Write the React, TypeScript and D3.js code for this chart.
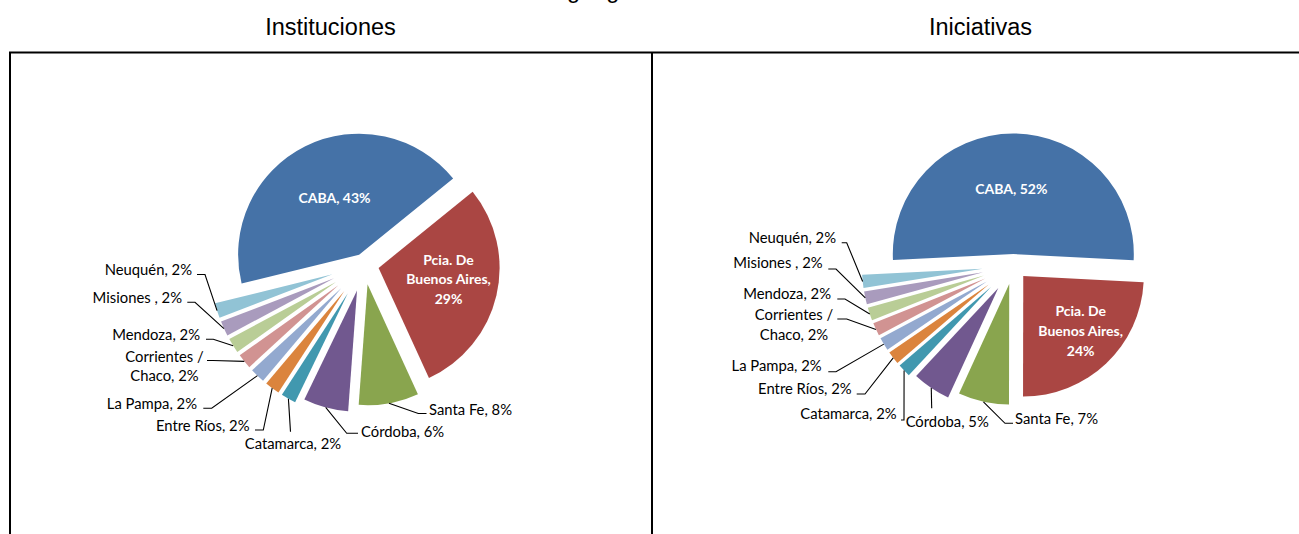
import React from 'react';
import * as d3 from 'd3';

// ---------- DATA ----------
const categories = [
  'CABA',
  'Pcia. De Buenos Aires',
  'Santa Fe',
  'Córdoba',
  'Catamarca',
  'Entre Ríos',
  'La Pampa',
  'Corrientes / Chaco',
  'Mendoza',
  'Misiones ',
  'Neuquén',
];
const institucionesValues = [43, 29, 8, 6, 2, 2, 2, 2, 2, 2, 2];
const iniciativasValues = [51.6, 24.2, 6.8, 5.1, 1.75, 1.75, 1.75, 1.75, 1.75, 1.75, 1.75];
const chartTitles = ['Instituciones', 'Iniciativas'];
const pageTitle = 'Distribución geográfica';

// ---------- STYLES / LAYOUT ----------
const colors = ['#4572A7', '#AA4643', '#89A54E', '#71588F', '#4198AF', '#DB843D', '#93A9CF', '#D19392', '#B9CD96', '#A99BBD', '#91C3D5'];
const LABEL_FONT = 'Lato, "Open Sans", sans-serif';
const TITLE_FONT = '"Liberation Sans", Arial, sans-serif';

type LabelLayout = {
  inside?: boolean;
  x: number;
  y: number;
  anchor: 'start' | 'middle' | 'end';
  breaks?: number[];
  lh?: number;
  elbow?: [number, number];
  end?: [number, number];
};

type ChartLayout = {
  titleX: number;
  cx: number;
  cy: number;
  r: number;
  startDeg: number;
  explode: number[];
  labels: LabelLayout[];
};

const leftLayout: ChartLayout = {
  titleX: 330.5,
  cx: 364,
  cy: 264.5,
  r: 121,
  startDeg: -103.8,
  explode: [11, 15, 20, 27, 33, 33, 33, 33, 33, 33, 33],
  labels: [
    { inside: true, x: 334.5, y: 202.5, anchor: 'middle' },
    { inside: true, x: 448.5, y: 264.5, anchor: 'middle', breaks: [2, 4], lh: 19.7 },
    { x: 429, y: 415, anchor: 'start', elbow: [418.3, 413.5], end: [426.5, 413.5] },
    { x: 361, y: 437, anchor: 'start', elbow: [346.7, 433.3], end: [358, 433.3] },
    { x: 293, y: 449, anchor: 'middle', elbow: [290.5, 431.7], end: [290.5, 431.7] },
    { x: 249.5, y: 431, anchor: 'end', elbow: [263.3, 430], end: [255, 430] },
    { x: 197, y: 409, anchor: 'end', elbow: [211.7, 408.3], end: [203.3, 408.3] },
    { x: 164.5, y: 361.7, anchor: 'middle', breaks: [2], lh: 19.3, elbow: [213, 360.5], end: [207, 360.5] },
    { x: 200, y: 340, anchor: 'end', elbow: [213.3, 339.3], end: [206, 339.3] },
    { x: 182, y: 302.7, anchor: 'end', elbow: [195, 302.3], end: [187.3, 302.3] },
    { x: 192, y: 275, anchor: 'end', elbow: [205, 274.5], end: [197, 274.5] },
  ],
};

const rightLayout: ChartLayout = {
  titleX: 980.5,
  cx: 1013.3,
  cy: 265.5,
  r: 120.5,
  startDeg: -92.9,
  explode: [11.5, 14.5, 19, 27, 31, 31, 31, 31, 31, 31, 31],
  labels: [
    { inside: true, x: 1011.3, y: 194.3, anchor: 'middle' },
    { inside: true, x: 1080.7, y: 316, anchor: 'middle', breaks: [2, 4], lh: 19.85 },
    { x: 1015, y: 424.3, anchor: 'start', elbow: [1005, 423.3], end: [1013, 423.3] },
    { x: 947.2, y: 427, anchor: 'middle', elbow: [931.7, 408.3], end: [931.7, 408.3] },
    { x: 896.7, y: 419.3, anchor: 'end', elbow: [904, 420], end: [901, 420] },
    { x: 851.7, y: 394, anchor: 'end', elbow: [865, 394], end: [856.7, 394] },
    { x: 821.7, y: 371, anchor: 'end', elbow: [836, 371.7], end: [828.3, 371.7] },
    { x: 794, y: 320, anchor: 'middle', breaks: [2], lh: 20, elbow: [846.7, 319], end: [837.3, 319] },
    { x: 831, y: 299.3, anchor: 'end', elbow: [845, 299], end: [837.3, 299] },
    { x: 822.7, y: 268.3, anchor: 'end', elbow: [836, 269], end: [828.3, 269] },
    { x: 836, y: 243.3, anchor: 'end', elbow: [846.7, 242.7], end: [841.7, 242.7] },
  ],
};

function splitLines(text: string, breaks?: number[]): string[] {
  if (!breaks || breaks.length === 0) return [text];
  const words = text.split(' ');
  const lines: string[] = [];
  let prev = 0;
  for (const b of breaks) {
    lines.push(words.slice(prev, b).join(' '));
    prev = b;
  }
  lines.push(words.slice(prev).join(' '));
  return lines;
}

function PieChart({ values, title, layout }: { values: number[]; title: string; layout: ChartLayout }) {
  const start = (layout.startDeg * Math.PI) / 180;
  const pie = d3
    .pie<number>()
    .sort(null)
    .value((d) => d)
    .startAngle(start)
    .endAngle(start + 2 * Math.PI);
  const arcs = pie(values);
  const arcGen = d3.arc<d3.PieArcDatum<number>>().innerRadius(0).outerRadius(layout.r);
  const total = d3.sum(values);
  const { cx, cy, r } = layout;

  return (
    <g>
      <text x={layout.titleX} y={35} textAnchor="middle" fontFamily={TITLE_FONT} fontSize={23.5} fill="#000">
        {title}
      </text>
      {arcs.map((a, i) => {
        const mid = (a.startAngle + a.endAngle) / 2;
        const e = layout.explode[i];
        const dx = e * Math.sin(mid);
        const dy = -e * Math.cos(mid);
        return (
          <path key={'s' + i} d={arcGen(a) || ''} transform={`translate(${cx + dx},${cy + dy})`} fill={colors[i]} />
        );
      })}
      {arcs.map((a, i) => {
        const L = layout.labels[i];
        const pct = Math.round((values[i] / total) * 100);
        const text = `${categories[i]}, ${pct}%`;
        const lines = splitLines(text, L.breaks);
        const lh = L.lh || 19.5;
        const mid = (a.startAngle + a.endAngle) / 2;
        const R = r + layout.explode[i];
        const sx = cx + R * Math.sin(mid);
        const sy = cy - R * Math.cos(mid);
        return (
          <g key={'l' + i}>
            {!L.inside && L.elbow && L.end && (
              <path
                d={`M${sx},${sy}L${L.elbow[0]},${L.elbow[1]}L${L.end[0]},${L.end[1]}`}
                fill="none"
                stroke="#000"
                strokeWidth={1.1}
              />
            )}
            <text
              x={L.x}
              y={L.y}
              textAnchor={L.anchor}
              fontFamily={LABEL_FONT}
              fontSize={L.inside ? 14 : 14.8}
              fontWeight={L.inside ? 700 : 400}
              fill={L.inside ? '#ffffff' : '#000000'}
            >
              {lines.map((ln, k) => (
                <tspan key={k} x={L.x} y={L.y + k * lh}>
                  {ln}
                </tspan>
              ))}
            </text>
          </g>
        );
      })}
    </g>
  );
}

export default function App() {
  return (
    <svg
      width={1299}
      height={534}
      style={{ position: 'absolute', left: 0, top: 0, background: '#fff' }}
    >
      <rect x={0} y={0} width={1299} height={534} fill="#fff" />
      <text x={437.7} y={-2.2} fontFamily={TITLE_FONT} fontSize={23.5} fill="#000">
        {pageTitle}
      </text>
      <path d="M10,534V52.5H1299" fill="none" stroke="#000" strokeWidth={2} />
      <path d="M652,52.5V534" fill="none" stroke="#000" strokeWidth={2} />
      <PieChart values={institucionesValues} title={chartTitles[0]} layout={leftLayout} />
      <PieChart values={iniciativasValues} title={chartTitles[1]} layout={rightLayout} />
    </svg>
  );
}
